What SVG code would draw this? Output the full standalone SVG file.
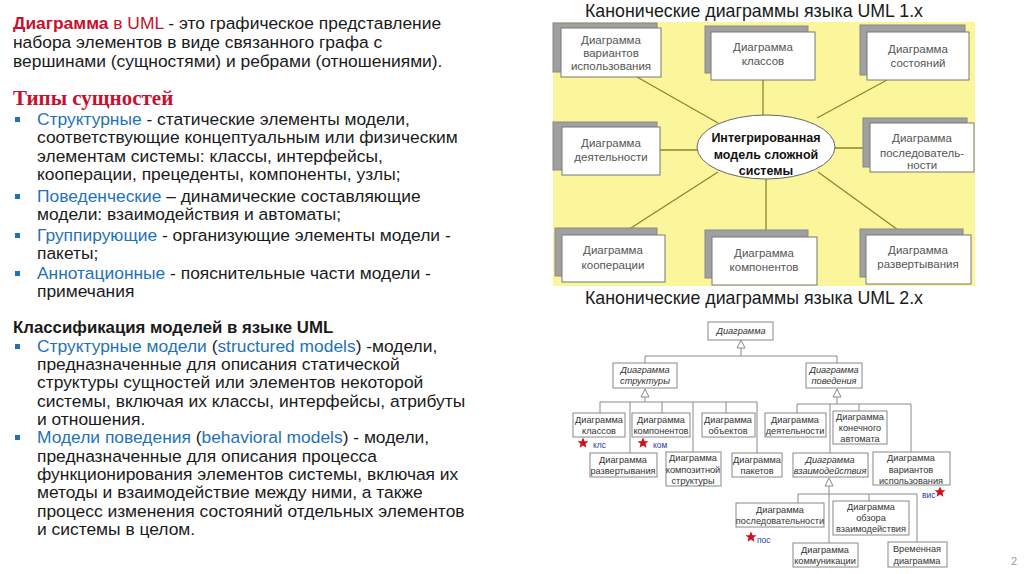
<svg xmlns="http://www.w3.org/2000/svg" width="1024" height="574" viewBox="0 0 1024 574">
<style>
.t{font-family:"Liberation Sans",Arial,sans-serif;font-size:17.4px;fill:#1a1a1a}
.red{fill:#c8102e}
.blue{fill:#1f72b8}
.bul{fill:#1f72b8}
.h2{font-family:"Liberation Serif","Times New Roman",serif;font-size:21px;font-weight:bold;fill:#c8102e}
.b{font-weight:bold;font-size:16.8px}
.ttl{font-family:"Liberation Sans",Arial,sans-serif;font-size:17.8px;fill:#1a1a1a;text-anchor:middle}
.n1{font-family:"Liberation Sans",Arial,sans-serif;font-size:11.5px;fill:#555;text-anchor:middle}
.ell{font-family:"Liberation Sans",Arial,sans-serif;font-size:12.5px;font-weight:bold;fill:#111;text-anchor:middle}
.sh{fill:#a0a0a0;stroke:#888;stroke-width:1}
.wb{fill:#fff;stroke:#777;stroke-width:1}
.c1{stroke:#8a8530;stroke-width:1.3;fill:none}
.n2{font-family:"Liberation Sans",Arial,sans-serif;font-size:9.2px;fill:#333;text-anchor:middle}
.it{font-style:italic}
.b2{fill:#fff;stroke:#888;stroke-width:1}
.c2{stroke:#8a8a8a;stroke-width:1;fill:none}
.tri{fill:#fff;stroke:#8a8a8a;stroke-width:1}
.star{fill:#d0101a}
.lab{font-family:"Liberation Sans",Arial,sans-serif;font-size:8.5px;fill:#2a3fa0}
</style>
<defs>
<polygon id="star" points="0,-5.5 1.6,-1.8 5.5,-1.7 2.5,0.8 3.4,4.8 0,2.5 -3.4,4.8 -2.5,0.8 -5.5,-1.7 -1.6,-1.8"/>
<polygon id="tr" points="0,0 -4,8 4,8"/>
</defs>
<rect width="1024" height="574" fill="#fff"/>

<g id="left-text">
<text class="t" x="13" y="29"><tspan class="red" font-weight="bold">Диаграмма</tspan><tspan class="red"> в UML</tspan> - это графическое представление</text>
<text class="t" x="13" y="48">набора элементов в виде связанного графа с</text>
<text class="t" x="13" y="67">вершинами (сущностями) и ребрами (отношениями).</text>
<text class="h2" x="13" y="105">Типы сущностей</text>
<rect class="bul" x="15" y="117" width="5" height="5"/>
<text class="t" x="37" y="125"><tspan class="blue">Структурные</tspan> - статические элементы модели,</text>
<text class="t" x="37" y="143">соответствующие концептуальным или физическим</text>
<text class="t" x="37" y="162">элементам системы: классы, интерфейсы,</text>
<text class="t" x="37" y="180">кооперации, прецеденты, компоненты, узлы;</text>
<rect class="bul" x="15" y="194" width="5" height="5"/>
<text class="t" x="37" y="202"><tspan class="blue">Поведенческие</tspan> – динамические составляющие</text>
<text class="t" x="37" y="220">модели: взаимодействия и автоматы;</text>
<rect class="bul" x="15" y="233" width="5" height="5"/>
<text class="t" x="37" y="241"><tspan class="blue">Группирующие</tspan> - организующие элементы модели -</text>
<text class="t" x="37" y="259">пакеты;</text>
<rect class="bul" x="15" y="271" width="5" height="5"/>
<text class="t" x="37" y="279"><tspan class="blue">Аннотационные</tspan> - пояснительные части модели -</text>
<text class="t" x="37" y="297">примечания</text>
<text class="t b" x="13" y="333">Классификация моделей в языке UML</text>
<rect class="bul" x="15" y="344" width="5" height="5"/>
<text class="t" x="37" y="352"><tspan class="blue">Структурные модели</tspan> (<tspan class="blue">structured models</tspan>) -модели,</text>
<text class="t" x="37" y="370">предназначенные для описания статической</text>
<text class="t" x="37" y="388">структуры сущностей или элементов некоторой</text>
<text class="t" x="37" y="407">системы, включая их классы, интерфейсы, атрибуты</text>
<text class="t" x="37" y="425">и отношения.</text>
<rect class="bul" x="15" y="435" width="5" height="5"/>
<text class="t" x="37" y="443"><tspan class="blue">Модели поведения</tspan> (<tspan class="blue">behavioral models</tspan>) - модели,</text>
<text class="t" x="37" y="462">предназначенные для описания процесса</text>
<text class="t" x="37" y="480">функционирования элементов системы, включая их</text>
<text class="t" x="37" y="498">методы и взаимодействие между ними, а также</text>
<text class="t" x="37" y="517">процесс изменения состояний отдельных элементов</text>
<text class="t" x="37" y="535">и системы в целом.</text>
</g>

<text class="ttl" x="754" y="17">Канонические диаграммы языка UML 1.x</text>
<rect x="553" y="22" width="422" height="264" fill="#fbf59c"/>

<g id="uml1-connectors">
<line class="c1" x1="637" y1="77" x2="718" y2="123"/>
<line class="c1" x1="763" y1="80" x2="763" y2="115"/>
<line class="c1" x1="887" y1="80" x2="817" y2="118"/>
<line class="c1" x1="660" y1="150" x2="697" y2="150"/>
<line class="c1" x1="835" y1="148" x2="870" y2="148"/>
<line class="c1" x1="718" y1="172" x2="620" y2="235"/>
<line class="c1" x1="766" y1="179" x2="766" y2="237"/>
<line class="c1" x1="818" y1="172" x2="905" y2="235"/>
</g>

<g id="u1-usecase">
<rect class="sh" x="553" y="23" width="104" height="49"/>
<rect class="wb" x="561" y="28" width="100" height="49"/>
<text class="n1" x="611" y="44">Диаграмма</text>
<text class="n1" x="611" y="57">вариантов</text>
<text class="n1" x="611" y="70">использования</text>
</g>
<g id="u1-class">
<rect class="sh" x="705" y="26" width="103" height="47"/>
<rect class="wb" x="711" y="32" width="104" height="48"/>
<text class="n1" x="763" y="51">Диаграмма</text>
<text class="n1" x="763" y="65">классов</text>
</g>
<g id="u1-state">
<rect class="sh" x="860" y="25" width="105" height="50"/>
<rect class="wb" x="867" y="32" width="102" height="48"/>
<text class="n1" x="918" y="53">Диаграмма</text>
<text class="n1" x="918" y="67">состояний</text>
</g>
<g id="u1-activity">
<rect class="sh" x="553" y="122" width="104" height="48"/>
<rect class="wb" x="562" y="127" width="98" height="48"/>
<text class="n1" x="611" y="147">Диаграмма</text>
<text class="n1" x="611" y="161">деятельности</text>
</g>
<g id="u1-core">
<ellipse cx="766" cy="147" rx="69" ry="32" fill="#fff" stroke="#666" stroke-width="1"/>
<text class="ell" x="766" y="142">Интегрированная</text>
<text class="ell" x="766" y="159">модель сложной</text>
<text class="ell" x="766" y="175">системы</text>
</g>
<g id="u1-sequence">
<rect class="sh" x="863" y="118" width="104" height="49"/>
<rect class="wb" x="870" y="123" width="104" height="49"/>
<text class="n1" x="922" y="142">Диаграмма</text>
<text class="n1" x="922" y="157">последователь-</text>
<text class="n1" x="922" y="169">ности</text>
</g>
<g id="u1-collab">
<rect class="sh" x="555" y="228" width="102" height="48"/>
<rect class="wb" x="562" y="235" width="103" height="47"/>
<text class="n1" x="613" y="254">Диаграмма</text>
<text class="n1" x="613" y="269">кооперации</text>
</g>
<g id="u1-component">
<rect class="sh" x="705" y="230" width="103" height="48"/>
<rect class="wb" x="712" y="237" width="105" height="48"/>
<text class="n1" x="764" y="257">Диаграмма</text>
<text class="n1" x="764" y="271">компонентов</text>
</g>
<g id="u1-deploy">
<rect class="sh" x="860" y="229" width="103" height="48"/>
<rect class="wb" x="866" y="235" width="105" height="49"/>
<text class="n1" x="918" y="254">Диаграмма</text>
<text class="n1" x="918" y="268">развертывания</text>
</g>

<text class="ttl" x="754" y="304">Канонические диаграммы языка UML 2.x</text>

<g id="uml2-connectors">
<path class="c2" d="M741 348V356M645 356H837M645 356V363M837 356V363"/>
<path class="c2" d="M645 397V402M600 402H757M600 402V413M630 402V453M662 402V413M693 402V452M726 402V413M757 402V453"/>
<path class="c2" d="M837 397V404M797 404H911M797 404V413M830 404V453M859 404V411M911 404V452"/>
<path class="c2" d="M829 486V494M798 494H917M798 494V503M829 494V543M869 494V501M917 494V542"/>
<use href="#tr" x="741" y="340" class="tri"/>
<use href="#tr" x="645" y="389" class="tri"/>
<use href="#tr" x="837" y="389" class="tri"/>
<use href="#tr" x="829" y="478" class="tri"/>
</g>

<g id="u2-diagram">
<rect class="b2" x="708" y="322" width="65" height="18"/>
<text class="n2 it" x="741" y="334">Диаграмма</text>
</g>
<g id="u2-structure">
<rect class="b2" x="613" y="363" width="64" height="25"/>
<text class="n2 it" x="645" y="373">Диаграмма</text>
<text class="n2 it" x="645" y="384">структуры</text>
</g>
<g id="u2-behavior">
<rect class="b2" x="806" y="363" width="56" height="25"/>
<text class="n2 it" x="834" y="373">Диаграмма</text>
<text class="n2 it" x="834" y="384">поведения</text>
</g>
<g id="u2-class">
<rect class="b2" x="573" y="413" width="52" height="24"/>
<text class="n2" x="599" y="423">Диаграмма</text>
<text class="n2" x="599" y="434">классов</text>
<use href="#star" x="583" y="443" class="star"/>
<text class="lab" x="593" y="448">клс</text>
</g>
<g id="u2-component">
<rect class="b2" x="632" y="413" width="58" height="24"/>
<text class="n2" x="661" y="423">Диаграмма</text>
<text class="n2" x="661" y="434">компонентов</text>
<use href="#star" x="643" y="443" class="star"/>
<text class="lab" x="653" y="448">ком</text>
</g>
<g id="u2-object">
<rect class="b2" x="702" y="413" width="53" height="24"/>
<text class="n2" x="728" y="423">Диаграмма</text>
<text class="n2" x="728" y="434">объектов</text>
</g>
<g id="u2-deploy">
<rect class="b2" x="590" y="453" width="67" height="24"/>
<text class="n2" x="623" y="463">Диаграмма</text>
<text class="n2" x="623" y="474">развертывания</text>
</g>
<g id="u2-composite">
<rect class="b2" x="666" y="452" width="55" height="34"/>
<text class="n2" x="693" y="461">Диаграмма</text>
<text class="n2" x="693" y="473">композитной</text>
<text class="n2" x="693" y="484">структуры</text>
</g>
<g id="u2-package">
<rect class="b2" x="732" y="453" width="50" height="24"/>
<text class="n2" x="757" y="463">Диаграмма</text>
<text class="n2" x="757" y="474">пакетов</text>
</g>
<g id="u2-activity">
<rect class="b2" x="765" y="413" width="61" height="24"/>
<text class="n2" x="795" y="423">Диаграмма</text>
<text class="n2" x="795" y="434">деятельности</text>
</g>
<g id="u2-statemachine">
<rect class="b2" x="833" y="411" width="54" height="33"/>
<text class="n2" x="860" y="420">Диаграмма</text>
<text class="n2" x="860" y="431">конечного</text>
<text class="n2" x="860" y="442">автомата</text>
</g>
<g id="u2-interaction">
<rect class="b2" x="793" y="453" width="75" height="24"/>
<text class="n2 it" x="830" y="463">Диаграмма</text>
<text class="n2 it" x="830" y="474">взаимодействия</text>
</g>
<g id="u2-usecase">
<rect class="b2" x="873" y="452" width="77" height="33"/>
<text class="n2" x="911" y="461">Диаграмма</text>
<text class="n2" x="911" y="473">вариантов</text>
<text class="n2" x="911" y="484">использования</text>
<text class="lab" x="922" y="498">вис</text>
<use href="#star" x="940" y="492" class="star"/>
</g>
<g id="u2-sequence">
<rect class="b2" x="736" y="503" width="88" height="24"/>
<text class="n2" x="780" y="513">Диаграмма</text>
<text class="n2" x="780" y="524">последовательности</text>
<use href="#star" x="751" y="537" class="star"/>
<text class="lab" x="757" y="543">пос</text>
</g>
<g id="u2-overview">
<rect class="b2" x="833" y="501" width="76" height="34"/>
<text class="n2" x="871" y="510">Диаграмма</text>
<text class="n2" x="871" y="521">обзора</text>
<text class="n2" x="871" y="532">взаимодействия</text>
</g>
<g id="u2-communication">
<rect class="b2" x="793" y="543" width="65" height="24"/>
<text class="n2" x="825" y="553">Диаграмма</text>
<text class="n2" x="825" y="564">коммуникации</text>
</g>
<g id="u2-timing">
<rect class="b2" x="888" y="542" width="59" height="25"/>
<text class="n2" x="917" y="552">Временная</text>
<text class="n2" x="917" y="564">диаграмма</text>
</g>
<text x="1017" y="565" font-family="Liberation Sans,Arial,sans-serif" font-size="11" fill="#999" text-anchor="end">2</text>
</svg>
